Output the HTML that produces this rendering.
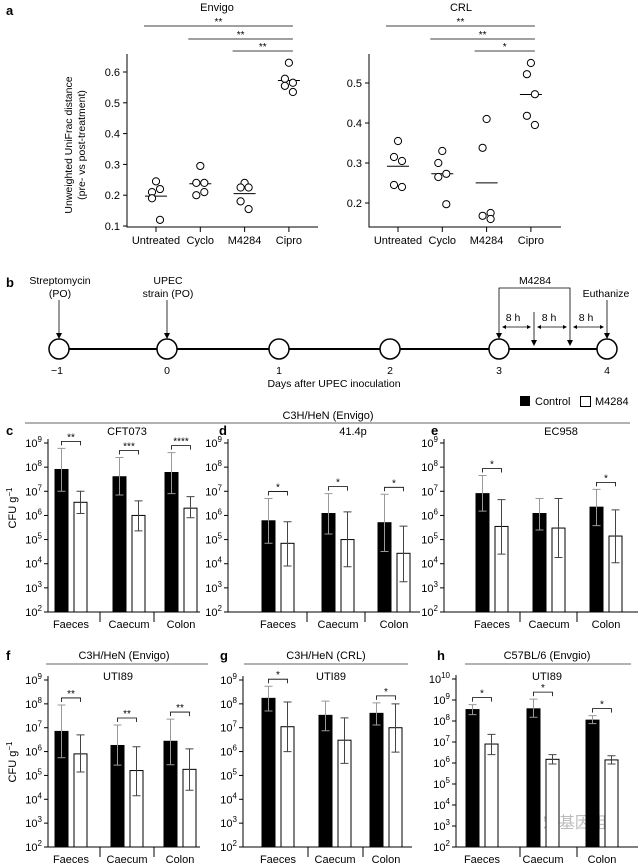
<!DOCTYPE html>
<html><head><meta charset="utf-8">
<style>
html,body{margin:0;padding:0;background:#fff;}
svg{display:block;font-family:"Liberation Sans","Noto Sans CJK SC",sans-serif;}
</style></head>
<body>
<svg id="fig" width="640" height="864" viewBox="0 0 640 864" xmlns="http://www.w3.org/2000/svg">
<g id="static">
<!-- panel letters -->
<text x="6" y="15" font-size="13" font-weight="bold">a</text>
<text x="6" y="287" font-size="13" font-weight="bold">b</text>
<text x="6" y="435" font-size="13" font-weight="bold">c</text>
<text x="219" y="435" font-size="13" font-weight="bold">d</text>
<text x="431" y="435" font-size="13" font-weight="bold">e</text>
<text x="6" y="660" font-size="13" font-weight="bold">f</text>
<text x="220" y="660" font-size="13" font-weight="bold">g</text>
<text x="437" y="660" font-size="13" font-weight="bold">h</text>

<!-- panel a titles -->
<text x="217" y="11" font-size="11" text-anchor="middle">Envigo</text>
<text x="461" y="11" font-size="11" text-anchor="middle">CRL</text>
<g transform="translate(72,145) rotate(-90)">
<text x="0" y="0" font-size="10.5" text-anchor="middle">Unweighted UniFrac distance</text>
<text x="0" y="13" font-size="10.5" text-anchor="middle">(pre- vs post-treatment)</text>
</g>

<!-- panel b timeline -->
<g stroke="#000" fill="none">
<line x1="59" y1="349" x2="607" y2="349" stroke-width="2"/>
<circle cx="59" cy="349" r="10" fill="#fff" stroke-width="1.5"/>
<circle cx="167" cy="349" r="10" fill="#fff" stroke-width="1.5"/>
<circle cx="279" cy="349" r="10" fill="#fff" stroke-width="1.5"/>
<circle cx="390" cy="349" r="10" fill="#fff" stroke-width="1.5"/>
<circle cx="499" cy="349" r="10" fill="#fff" stroke-width="1.5"/>
<circle cx="607" cy="349" r="10" fill="#fff" stroke-width="1.5"/>
<line x1="59" y1="300" x2="59" y2="336" stroke-width="0.8"/>
<line x1="167" y1="300" x2="167" y2="336" stroke-width="0.8"/>
<line x1="607" y1="300" x2="607" y2="336" stroke-width="0.8"/>
<polyline points="499,312 499,288 570,288 570,312" stroke-width="0.8"/>
<line x1="499" y1="312" x2="499" y2="336" stroke-width="0.8"/>
<line x1="534" y1="312" x2="534" y2="343" stroke-width="0.8"/>
<line x1="570" y1="312" x2="570" y2="343" stroke-width="0.8"/>
<line x1="503" y1="327" x2="530" y2="327" stroke-width="0.8"/>
<line x1="538" y1="327" x2="566" y2="327" stroke-width="0.8"/>
<line x1="574" y1="327" x2="603" y2="327" stroke-width="0.8"/>
</g>
<g fill="#000">
<path d="M56,333 L62,333 L59,339 Z"/><path d="M164,333 L170,333 L167,339 Z"/><path d="M604,333 L610,333 L607,339 Z"/>
<path d="M496,333 L502,333 L499,339 Z"/><path d="M531,340 L537,340 L534,346 Z"/><path d="M567,340 L573,340 L570,346 Z"/>
<path d="M502,327 L506,325 L506,329 Z"/><path d="M531,327 L527,325 L527,329 Z"/>
<path d="M537,327 L541,325 L541,329 Z"/><path d="M567,327 L563,325 L563,329 Z"/>
<path d="M573,327 L577,325 L577,329 Z"/><path d="M604,327 L600,325 L600,329 Z"/>
</g>
<g font-size="10.5" text-anchor="middle">
<text x="60" y="284">Streptomycin</text><text x="60" y="297">(PO)</text>
<text x="168" y="284">UPEC</text><text x="168" y="297">strain (PO)</text>
<text x="535" y="284">M4284</text>
<text x="606" y="297">Euthanize</text>
<text x="513" y="321">8 h</text><text x="549" y="321">8 h</text><text x="586" y="321">8 h</text>
<text x="57" y="374">−1</text><text x="167" y="374">0</text><text x="279" y="374">1</text>
<text x="390" y="374">2</text><text x="499" y="374">3</text><text x="607" y="374">4</text>
<text x="334" y="387">Days after UPEC inoculation</text>
</g>

<!-- legend -->
<g font-size="11">
<rect x="520" y="396" width="10" height="10" fill="#000"/>
<text x="535" y="405">Control</text>
<rect x="580.5" y="396.5" width="10" height="10" fill="#fff" stroke="#000"/>
<text x="595" y="405">M4284</text>
</g>
<text x="328" y="419" font-size="11" text-anchor="middle">C3H/HeN (Envigo)</text>
<line x1="25" y1="423" x2="630" y2="423" stroke="#666" stroke-width="1"/>

<text x="124" y="659" font-size="11" text-anchor="middle">C3H/HeN (Envigo)</text>
<line x1="46" y1="664" x2="208" y2="664" stroke="#666"/>
<text x="326" y="659" font-size="11" text-anchor="middle">C3H/HeN (CRL)</text>
<line x1="244" y1="664" x2="408" y2="664" stroke="#666"/>
<text x="547" y="659" font-size="11" text-anchor="middle">C57BL/6 (Envgio)</text>
<line x1="465" y1="664" x2="631" y2="664" stroke="#666"/>

<g transform="translate(16,508) rotate(-90)"><text font-size="11" text-anchor="middle">CFU g<tspan dy="-4" font-size="8">−1</tspan></text></g>
<g transform="translate(16,762) rotate(-90)"><text font-size="11" text-anchor="middle">CFU g<tspan dy="-4" font-size="8">−1</tspan></text></g>

<text x="575" y="828" font-size="16" fill="#bbb" text-anchor="middle">宏基因组</text>
</g>
<g id="dyn"></g>
</svg>
<script>
// ---------- Panel a data ----------
const aCats = ['Untreated', 'Cyclo', 'M4284', 'Cipro'];
const envigoVals = [
  [0.245, 0.21, 0.22, 0.19, 0.12],
  [0.295, 0.24, 0.24, 0.20, 0.21],
  [0.24, 0.225, 0.225, 0.18, 0.155],
  [0.63, 0.578, 0.565, 0.555, 0.535]
];
const crlVals = [
  [0.355, 0.315, 0.305, 0.245, 0.24],
  [0.33, 0.30, 0.273, 0.265, 0.197],
  [0.41, 0.338, 0.175, 0.168, 0.16],
  [0.55, 0.522, 0.472, 0.418, 0.395]
];
const envigoTicks = [0.1, 0.2, 0.3, 0.4, 0.5, 0.6];
const crlTicks = [0.2, 0.3, 0.4, 0.5];
const envigoSig = ['**', '**', '**'];
const crlSig = ['**', '**', '*'];

// ---------- Bar panels data ----------
const groups = ['Faeces', 'Caecum', 'Colon'];
const cCtrl = [8e7, 4e7, 6e7], cCtrlHi = [6e8, 2.5e8, 4e8], cCtrlLo = [1e7, 7e6, 8e6];
const cTrt = [3.5e6, 1e6, 2e6], cTrtHi = [1e7, 4e6, 6e6], cTrtLo = [1.2e6, 2.3e5, 8e5];
const cSig = ['**', '***', '****'];
const dCtrl = [6e5, 1.2e6, 5e5], dCtrlHi = [5e6, 8e6, 7.5e6], dCtrlLo = [7e4, 1.7e5, 3.2e4];
const dTrt = [7e4, 1e5, 2.7e4], dTrtHi = [5.5e5, 1.4e6, 3.6e5], dTrtLo = [8e3, 7.5e3, 1.8e3];
const dSig = ['*', '*', '*'];
const eCtrl = [8e6, 1.2e6, 2.2e6], eCtrlHi = [4.5e7, 5e6, 1.2e7], eCtrlLo = [1.5e6, 2.5e5, 3.8e5];
const eTrt = [3.5e5, 3e5, 1.4e5], eTrtHi = [4.5e6, 5e6, 1.7e6], eTrtLo = [2.5e4, 1.8e4, 1.1e4];
const eSig = ['*', '', '*'];
const fCtrl = [7e6, 1.8e6, 2.7e6], fCtrlHi = [9e7, 1.3e7, 2.3e7], fCtrlLo = [5.5e5, 2.7e5, 2.8e5];
const fTrt = [8e5, 1.6e5, 1.8e5], fTrtHi = [5e6, 1.6e6, 1.3e6], fTrtLo = [1.4e5, 1.4e4, 2.4e4];
const fSig = ['**', '**', '**'];
const gCtrl = [1.7e8, 3.3e7, 4e7], gCtrlHi = [5.5e8, 1.3e8, 1.1e8], gCtrlLo = [5e7, 7.5e6, 1.3e7];
const gTrt = [1.1e7, 3e6, 1e7], gTrtHi = [1.2e8, 2.6e7, 1e8], gTrtLo = [1e6, 3.2e5, 9.5e5];
const gSig = ['*', '', '*'];
const hCtrl = [3.5e8, 3.8e8, 1.1e8], hCtrlHi = [6e8, 1.1e9, 1.8e8], hCtrlLo = [2e8, 1.5e8, 7.5e7];
const hTrt = [8e6, 1.5e6, 1.4e6], hTrtHi = [2.3e7, 2.5e6, 2.2e6], hTrtLo = [2.5e6, 9e5, 9e5];
const hSig = ['*', '*', '*'];

const NS = 'http://www.w3.org/2000/svg';
const root = document.getElementById('dyn');
function mk(tag, attrs, parent) {
  const e = document.createElementNS(NS, tag);
  for (const k in attrs) e.setAttribute(k, attrs[k]);
  (parent || root).appendChild(e);
  return e;
}

// ---------- Scatter panel ----------
function scatter(cfg, vals, ticks, sig, key) {
  const g = mk('g', {});
  
  
  const y = v => cfg.yBase - (v - cfg.vBase) * cfg.k;
  const xc = i => cfg.xStart + i * cfg.step;
  const ax = mk('path', {d: `M${cfg.x0},${cfg.top} V${cfg.bottom} H${cfg.x1}`, fill: 'none', stroke: '#000', 'stroke-width': 1}, g);
  
  
  ticks.forEach(t => {
    const tk = mk('line', {x1: cfg.x0 - 4, x2: cfg.x0, y1: y(t), y2: y(t), stroke: '#000'}, g);
    
    
    const tl = mk('text', {x: cfg.x0 - 7, y: y(t) + 4, 'font-size': 11, 'text-anchor': 'end'}, g);
    tl.textContent = t.toFixed(1);
    
    
  });
  const jit = [0, -4, 4, -4, 4];
  aCats.forEach((c, i) => {
    const tk = mk('line', {x1: xc(i), x2: xc(i), y1: cfg.bottom, y2: cfg.bottom + 5, stroke: '#000'}, g);
    
    
    const tl = mk('text', {x: xc(i), y: cfg.bottom + 17, 'font-size': 11, 'text-anchor': 'middle'}, g);
    tl.textContent = c;
    
    
    const vs = vals[i];
    const mean = vs.reduce((a, b) => a + b, 0) / vs.length;
    const ml = mk('line', {x1: xc(i) - 11, x2: xc(i) + 11, y1: y(mean), y2: y(mean), stroke: '#000'}, g);
    
    
    vs.forEach((v, j) => {
      const pt = mk('circle', {cx: xc(i) + jit[j], cy: y(v), r: 3.6, fill: '#fff', stroke: '#000', 'stroke-width': 1}, g);
      
      
    });
  });
  // significance lines to Cipro
  const ys = [26, 39, 51];
  sig.forEach((s, k) => {
    const ln = mk('line', {x1: xc(k) - 12, x2: xc(3) + 4, y1: ys[k], y2: ys[k], stroke: '#000', 'stroke-width': 0.8}, g);
    
    
    const st = mk('text', {x: (xc(k) - 12 + xc(3) + 4) / 2, y: ys[k] - 1, 'font-size': 10, 'text-anchor': 'middle'}, g);
    st.textContent = s;
    
    
  });
}
scatter({x0: 127, x1: 318, top: 54, bottom: 227, yBase: 226, vBase: 0.1, k: 308, xStart: 156, step: 44.3}, envigoVals, envigoTicks, envigoSig, 'envigo');
scatter({x0: 369, x1: 561, top: 54, bottom: 227, yBase: 203, vBase: 0.2, k: 400, xStart: 398, step: 44.3}, crlVals, crlTicks, crlSig, 'crl');

// ---------- Bar panels ----------
function barPanel(cfg, ctrl, ctrlHi, ctrlLo, trt, trtHi, trtLo, sig, key) {
  const g = mk('g', {});
  
  
  const dec = (cfg.bottom - cfg.top) / (cfg.topExp - 2);
  const y = v => cfg.bottom - (Math.log10(v) - 2) * dec;
  const ax = mk('path', {d: `M${cfg.x0},${cfg.top - 4} V${cfg.bottom} H${cfg.x1}`, fill: 'none', stroke: '#000'}, g);
  
  
  for (let e = 2; e <= cfg.topExp; e++) {
    const yy = cfg.bottom - (e - 2) * dec;
    const tk = mk('line', {x1: cfg.x0 - 4, x2: cfg.x0, y1: yy, y2: yy, stroke: '#000'}, g);
    
    
    const tl = mk('text', {x: cfg.x0 - 6, y: yy + 4, 'font-size': 11, 'text-anchor': 'end'}, g);
    
    
    tl.appendChild(document.createTextNode('10'));
    const sp = mk('tspan', {dy: -5, 'font-size': 8}, tl);
    sp.textContent = String(e);
  }
  const tt = mk('text', {x: cfg.titleX, y: cfg.titleY, 'font-size': 11, 'text-anchor': 'middle'}, g);
  tt.textContent = cfg.title;
  
  
  cfg.seps.forEach(sx => {
    const s = mk('line', {x1: sx, x2: sx, y1: cfg.bottom, y2: cfg.bottom + 10, stroke: '#000'}, g);
    
    
  });
  const W = 13, off = 9.5;
  groups.forEach((gname, i) => {
    const c = cfg.centers[i];
    const lab = mk('text', {x: c, y: cfg.bottom + 16, 'font-size': 11, 'text-anchor': 'middle'}, g);
    lab.textContent = gname;
    
    
    const series = [
      {v: ctrl[i], hi: ctrlHi[i], lo: ctrlLo[i], x: c - off, fill: '#000', n: 'control'},
      {v: trt[i], hi: trtHi[i], lo: trtLo[i], x: c + off, fill: '#fff', n: 'm4284'}
    ];
    series.forEach(s => {
      const b = mk('rect', {x: s.x - W / 2, y: y(s.v), width: W, height: cfg.bottom - y(s.v), fill: s.fill, stroke: '#000', 'stroke-width': 1}, g);
      
      
      const col = s.fill === '#000' ? '#999' : '#444';
      const eb = mk('path', {d: `M${s.x},${y(s.hi)} V${y(s.lo)} M${s.x - 4},${y(s.hi)} H${s.x + 4} M${s.x - 4},${y(s.lo)} H${s.x + 4}`, stroke: col, 'stroke-width': 1, fill: 'none'}, g);
      
      
    });
    if (sig[i]) {
      const by = Math.min(y(ctrlHi[i]), y(trtHi[i])) - 7;
      const br = mk('path', {d: `M${c - off},${by + 4} V${by} H${c + off} V${by + 4}`, stroke: '#000', fill: 'none', 'stroke-width': 0.8}, g);
      
      
      const st = mk('text', {x: c, y: by - 1, 'font-size': 10, 'text-anchor': 'middle'}, g);
      st.textContent = sig[i];
      
      
    }
  });
}
barPanel({x0: 48, x1: 200, top: 443, bottom: 612, topExp: 9, centers: [71, 129, 181], seps: [100, 154], title: 'CFT073', titleX: 127, titleY: 435}, cCtrl, cCtrlHi, cCtrlLo, cTrt, cTrtHi, cTrtLo, cSig, 'c');
barPanel({x0: 228, x1: 420, top: 443, bottom: 612, topExp: 9, centers: [278, 338, 394], seps: [307, 365], title: '41.4p', titleX: 353, titleY: 435}, dCtrl, dCtrlHi, dCtrlLo, dTrt, dTrtHi, dTrtLo, dSig, 'd');
barPanel({x0: 444, x1: 638, top: 443, bottom: 612, topExp: 9, centers: [492, 549, 606], seps: [520, 577], title: 'EC958', titleX: 561, titleY: 435}, eCtrl, eCtrlHi, eCtrlLo, eTrt, eTrtHi, eTrtLo, eSig, 'e');
barPanel({x0: 48, x1: 200, top: 680, bottom: 847, topExp: 9, centers: [71, 127, 180], seps: [100, 154], title: 'UTI89', titleX: 118, titleY: 680}, fCtrl, fCtrlHi, fCtrlLo, fTrt, fTrtHi, fTrtLo, fSig, 'f');
barPanel({x0: 243, x1: 412, top: 680, bottom: 847, topExp: 9, centers: [278, 335, 386], seps: [308, 363], title: 'UTI89', titleX: 331, titleY: 680}, gCtrl, gCtrlHi, gCtrlLo, gTrt, gTrtHi, gTrtLo, gSig, 'g');
barPanel({x0: 456, x1: 638, top: 679, bottom: 847, topExp: 10, centers: [482, 543, 602], seps: [520, 577], title: 'UTI89', titleX: 547, titleY: 680}, hCtrl, hCtrlHi, hCtrlLo, hTrt, hTrtHi, hTrtLo, hSig, 'h');
</script>
</body></html>
